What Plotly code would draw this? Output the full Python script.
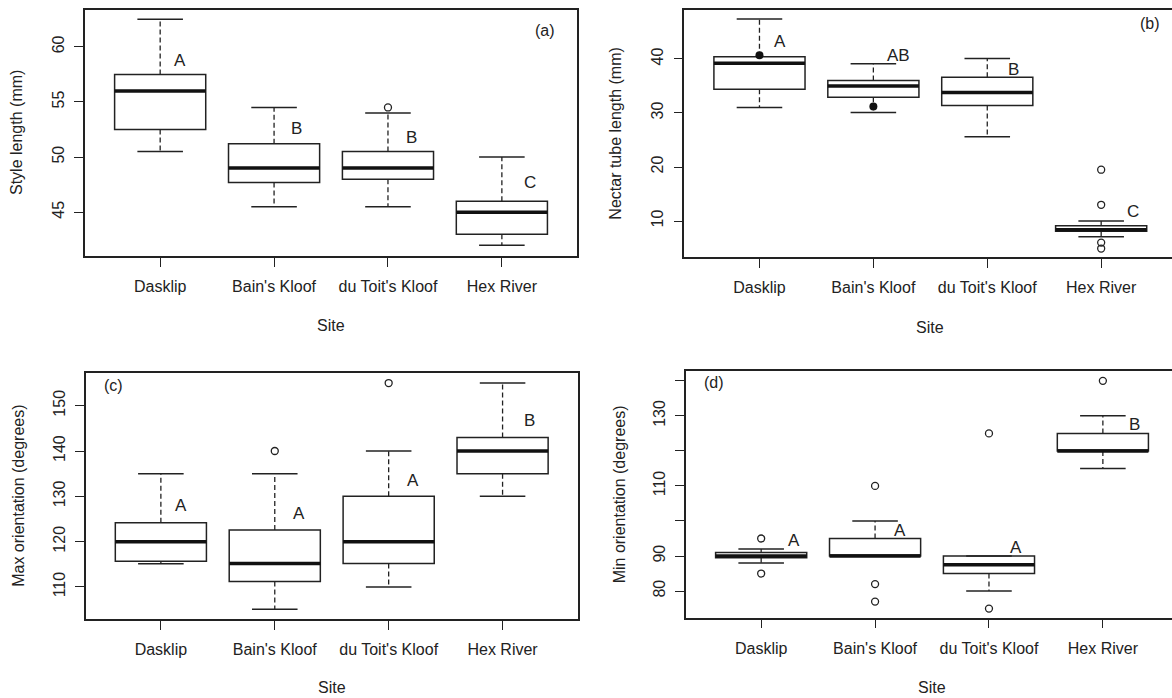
import plotly.graph_objects as go

W, H = 1172, 698
INK = "#222222"
FONT = "Liberation Sans, Arial, sans-serif"

sites = ["Dasklip", "Bain's Kloof", "du Toit's Kloof", "Hex River"]
positions = [1, 2, 3, 4]

# (a) Style length (mm)
style_lower = [50.5, 45.5, 45.5, 42.0]
style_q1 = [52.5, 47.7, 48.0, 43.0]
style_median = [56.0, 49.0, 49.0, 45.0]
style_q3 = [57.5, 51.2, 50.5, 46.0]
style_upper = [62.5, 54.5, 54.0, 50.0]
style_out_pos = [3]
style_out_val = [54.5]
style_letters = ["A", "B", "B", "C"]
style_ticks = [45, 50, 55, 60]

# (b) Nectar tube length (mm)
tube_lower = [31.0, 30.1, 25.6, 7.1]
tube_q1 = [34.4, 32.9, 31.4, 8.1]
tube_median = [39.2, 35.0, 33.8, 8.4]
tube_q3 = [40.4, 36.0, 36.6, 9.1]
tube_upper = [47.4, 39.1, 40.1, 10.0]
tube_out_pos = [4, 4, 4, 4]
tube_out_val = [19.5, 13.0, 6.0, 4.9]
tube_dot_pos = [1, 2]
tube_dot_val = [40.7, 31.2]
tube_letters = ["A", "AB", "B", "C"]
tube_ticks = [10, 20, 30, 40]

# (c) Max orientation (degrees)
maxo_lower = [115.1, 105.1, 110.0, 130.0]
maxo_q1 = [115.7, 111.2, 115.2, 135.0]
maxo_median = [120.0, 115.2, 120.0, 140.0]
maxo_q3 = [124.2, 122.6, 130.0, 143.0]
maxo_upper = [135.0, 135.0, 140.0, 155.0]
maxo_out_pos = [2, 3]
maxo_out_val = [140.0, 155.0]
maxo_letters = ["A", "A", "A", "B"]
maxo_ticks = [110, 120, 130, 140, 150]

# (d) Min orientation (degrees)
mino_lower = [88.0, 90.0, 80.0, 115.0]
mino_q1 = [89.5, 90.0, 85.0, 120.0]
mino_median = [90.0, 90.0, 87.5, 120.0]
mino_q3 = [91.0, 95.0, 90.0, 125.0]
mino_upper = [92.0, 100.0, 90.0, 130.0]
mino_out_pos = [1, 1, 2, 2, 2, 3, 3, 4]
mino_out_val = [95.0, 85.0, 110.0, 82.0, 77.0, 125.0, 75.0, 140.0]
mino_letters = ["A", "A", "A", "B"]
mino_ticks = [80, 90, 100, 110, 120, 130, 140]
mino_ticklabels = ["80", "90", "", "110", "", "130", ""]

BOXW = 0.8
CAPW = 0.4

fig = go.Figure()


def add_panel(sfx, lower, q1, med, q3, upper, out_pos, out_val,
              dot_pos=None, dot_val=None):
    xa, ya = "x" + sfx, "y" + sfx
    fig.add_trace(go.Box(
        x=positions, q1=q1, median=med, q3=q3,
        lowerfence=q1, upperfence=q3, width=BOXW, whiskerwidth=0,
        boxpoints=False, fillcolor="rgba(0,0,0,0)",
        line=dict(color=INK, width=1.5), xaxis=xa, yaxis=ya,
        showlegend=False, hoverinfo="skip"))
    wx, wy, cx, cy, mx, my = [], [], [], [], [], []
    for p, lo, a, m, b, up in zip(positions, lower, q1, med, q3, upper):
        wx += [p, p, None, p, p, None]
        wy += [b, up, None, a, lo, None]
        cx += [p - CAPW / 2, p + CAPW / 2, None, p - CAPW / 2, p + CAPW / 2, None]
        cy += [up, up, None, lo, lo, None]
        mx += [p - BOXW / 2, p + BOXW / 2, None]
        my += [m, m, None]
    fig.add_trace(go.Scatter(x=wx, y=wy, mode="lines", xaxis=xa, yaxis=ya,
                             line=dict(color=INK, width=1.3, dash="5px,3px"),
                             showlegend=False, hoverinfo="skip"))
    fig.add_trace(go.Scatter(x=cx, y=cy, mode="lines", xaxis=xa, yaxis=ya,
                             line=dict(color=INK, width=1.5),
                             showlegend=False, hoverinfo="skip"))
    fig.add_trace(go.Scatter(x=mx, y=my, mode="lines", xaxis=xa, yaxis=ya,
                             line=dict(color="#111111", width=3.5),
                             showlegend=False, hoverinfo="skip"))
    if out_pos:
        fig.add_trace(go.Scatter(
            x=out_pos, y=out_val, mode="markers", xaxis=xa, yaxis=ya,
            marker=dict(symbol="circle-open", size=7, color=INK,
                        line=dict(width=1.3, color=INK)),
            showlegend=False, hoverinfo="skip"))
    if dot_pos:
        fig.add_trace(go.Scatter(
            x=dot_pos, y=dot_val, mode="markers", xaxis=xa, yaxis=ya,
            marker=dict(symbol="circle", size=8, color="#111111"),
            showlegend=False, hoverinfo="skip"))


add_panel("", style_lower, style_q1, style_median, style_q3, style_upper,
          style_out_pos, style_out_val)
add_panel("2", tube_lower, tube_q1, tube_median, tube_q3, tube_upper,
          tube_out_pos, tube_out_val, tube_dot_pos, tube_dot_val)
add_panel("3", maxo_lower, maxo_q1, maxo_median, maxo_q3, maxo_upper,
          maxo_out_pos, maxo_out_val)
add_panel("4", mino_lower, mino_q1, mino_median, mino_q3, mino_upper,
          mino_out_pos, mino_out_val)

# frame geometry in pixels: left, right, top, bottom
frames = {
    "": (85, 577, 10, 256),
    "2": (684.3, 1172, 10, 257.3),
    "3": (85.7, 577.7, 373.3, 619.3),
    "4": (686, 1172, 371, 617.7),
}
UNIT = 113.9  # px per category step
yranges = {
    "": [41.03, 63.34],
    "2": [3.28, 49.07],
    "3": [102.87, 157.15],
    "4": [72.4, 142.8],
}
yticks = {
    "": (style_ticks, [str(v) for v in style_ticks]),
    "2": (tube_ticks, [str(v) for v in tube_ticks]),
    "3": (maxo_ticks, [str(v) for v in maxo_ticks]),
    "4": (mino_ticks, mino_ticklabels),
}
ytitles = {
    "": "Style length (mm)",
    "2": "Nectar tube length (mm)",
    "3": "Max orientation (degrees)",
    "4": "Min orientation (degrees)",
}
ytitle_x = {"": 17, "2": 616, "3": 18.5, "4": 619}
xtitle_off = {"": 69, "2": 70, "3": 68, "4": 70}
mirror_y = {"": True, "2": False, "3": True, "4": False}

layout = dict(width=W, height=H, margin=dict(l=0, r=0, t=0, b=0),
              paper_bgcolor="white", plot_bgcolor="white",
              font=dict(family=FONT, size=16, color=INK), showlegend=False)
annotations = []
for sfx, (l, r, t, b) in frames.items():
    xr = [0.34, 0.34 + (r - l) / UNIT]
    xa = dict(domain=[l / W, r / W], range=xr, anchor="y" + sfx,
              tickvals=positions, ticktext=sites, ticks="outside", ticklen=9,
              tickwidth=1.4, tickcolor=INK, showline=True, linecolor=INK,
              linewidth=1.5, mirror=True, showgrid=False, zeroline=False,
              ticklabelstandoff=6, tickfont=dict(size=16, color=INK))
    tv, tt = yticks[sfx]
    ya = dict(domain=[1 - b / H, 1 - t / H], range=yranges[sfx],
              anchor="x" + sfx, tickvals=tv, ticktext=tt, tickangle=-90,
              ticks="outside", ticklen=9, tickwidth=1.4, tickcolor=INK,
              showline=True, linecolor=INK, linewidth=1.5,
              mirror=mirror_y[sfx], showgrid=False, zeroline=False,
              ticklabelstandoff=4, tickfont=dict(size=16, color=INK))
    layout["xaxis" + sfx] = xa
    layout["yaxis" + sfx] = ya
    annotations.append(dict(text="Site", xref="paper", yref="paper",
                            x=((l + l + 4.32 * UNIT) / 2) / W,
                            y=1 - (b + xtitle_off[sfx]) / H,
                            showarrow=False, xanchor="center", yanchor="middle",
                            font=dict(size=16, color=INK)))
    annotations.append(dict(text=ytitles[sfx], xref="paper", yref="paper",
                            x=ytitle_x[sfx] / W, y=1 - ((t + b) / 2) / H,
                            textangle=-90, showarrow=False,
                            xanchor="center", yanchor="middle",
                            font=dict(size=16, color=INK)))

# significance letters and panel tags (placed in data coordinates)
letter_x = {
    "": [1.17, 2.20, 3.21, 4.25],
    "2": [1.18, 2.22, 3.23, 4.28],
    "3": [1.18, 2.21, 3.21, 4.24],
    "4": [1.29, 2.22, 3.24, 4.28],
}
letter_y = {
    "": [58.8, 52.6, 51.8, 47.7],
    "2": [43.2, 40.7, 38.0, 11.7],
    "3": [127.9, 126.25, 133.6, 146.7],
    "4": [94.5, 97.4, 92.4, 127.6],
}
letters = {"": style_letters, "2": tube_letters, "3": maxo_letters, "4": mino_letters}
for sfx in frames:
    for lx, ly, txt in zip(letter_x[sfx], letter_y[sfx], letters[sfx]):
        annotations.append(dict(text=txt, x=lx, y=ly, xref="x" + sfx,
                                yref="y" + sfx, showarrow=False,
                                font=dict(size=17, color=INK)))

tags = {"": ("(a)", 4.379, 61.52), "2": ("(b)", 4.429, 46.6),
        "3": ("(c)", 0.588, 154.35), "4": ("(d)", 0.586, 139.4)}
for sfx, (txt, tx, ty) in tags.items():
    annotations.append(dict(text=txt, x=tx, y=ty, xref="x" + sfx,
                            yref="y" + sfx, showarrow=False,
                            font=dict(size=16, color=INK)))

layout["annotations"] = annotations
fig.update_layout(**layout)
fig.write_html("out.html")
